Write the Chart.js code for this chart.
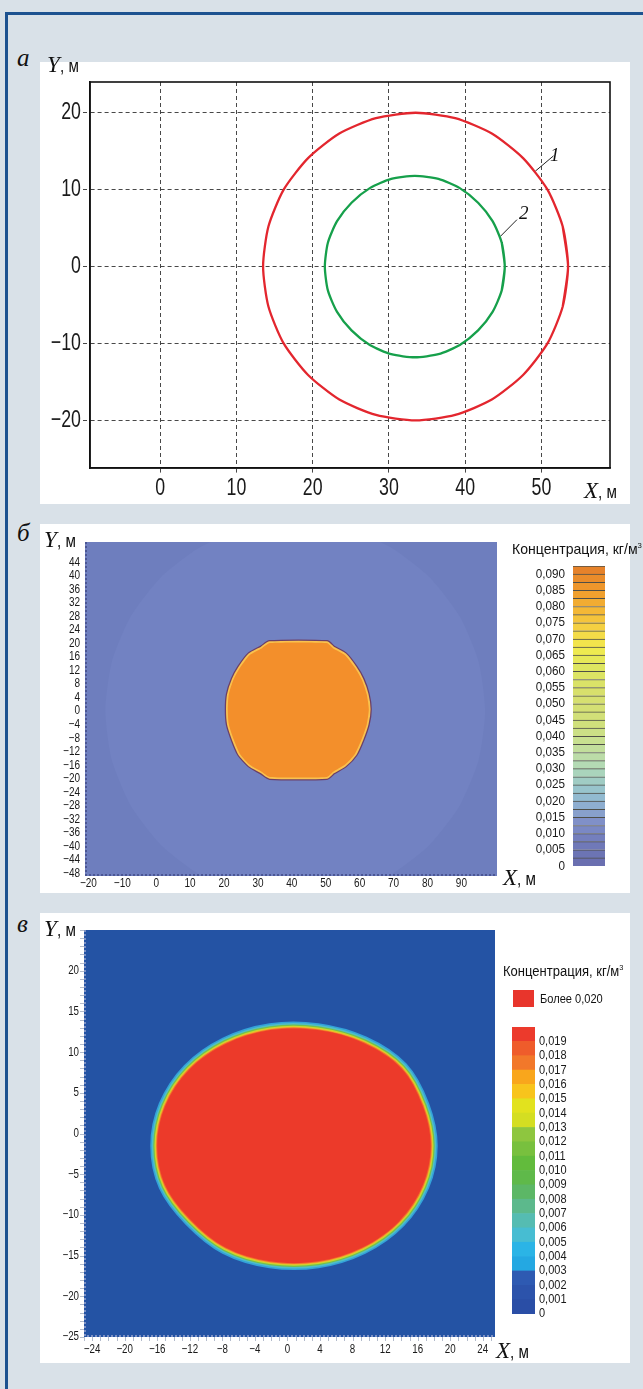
<!DOCTYPE html>
<html>
<head>
<meta charset="utf-8">
<script src="https://cdn.jsdelivr.net/npm/chart.js@4.4.1/dist/chart.umd.min.js"></script>
<style>
html, body { margin: 0; padding: 0; }
body { width: 643px; height: 1389px; background: #d9e1e8; position: relative; overflow: hidden;
       font-family: 'Liberation Sans', Arial, sans-serif; color: #111; }
#frame { position: absolute; left: 5px; top: 12px; width: 700px; height: 1450px; border: 3px solid #1d5290; }
.panel { position: absolute; background: #fff; }
.panel canvas { position: absolute; left: 0; top: 0; }
.abs { position: absolute; white-space: nowrap; line-height: 1; }
.n { display: inline-block; transform-origin: 0 50%; }
.let { font-family: 'Liberation Serif', serif; font-style: italic; font-size: 25px; }
.ax { font-size: 19px; }
.ax i { font-family: 'Liberation Serif', serif; font-size: 23px; }
.ax .n { transform: scaleX(0.8); }
.num { font-family: 'Liberation Serif', serif; font-style: italic; font-size: 19px; }
.ttl { font-size: 14px; }
.ttl .n { transform: scaleX(0.93); }
.ttl sup { font-size: 8px; }
</style>
</head>
<body>
<div id="frame"></div>

<div class="abs let" style="left:17px;top:45px">а</div>
<div class="panel" style="left:40px;top:62px;width:590px;height:442px"><canvas id="chartA" width="590" height="442"></canvas></div>
<div class="abs ax" style="left:47px;top:53px"><i>Y</i><span class="n">, м</span></div>
<div class="abs ax" style="left:584px;top:479px"><i>X</i><span class="n">, м</span></div>
<div class="abs num" style="left:550px;top:145px">1</div>
<div class="abs num" style="left:519px;top:203px">2</div>

<div class="abs let" style="left:17px;top:520px">б</div>
<div class="panel" style="left:40px;top:524px;width:590px;height:369px"><canvas id="chartB" width="590" height="369"></canvas></div>
<div class="abs ax" style="left:44px;top:528px"><i>Y</i><span class="n">, м</span></div>
<div class="abs ax" style="left:503px;top:866px"><i>X</i><span class="n">, м</span></div>
<div class="abs ttl" style="left:512px;top:542px;font-size:14.5px"><span class="n" style="transform:scaleX(0.97)">Концентрация, кг/м<sup>3</sup></span></div>
<canvas id="barB" width="100" height="320" style="position:absolute;left:520px;top:556px"></canvas>

<div class="abs let" style="left:17px;top:911px">в</div>
<div class="panel" style="left:40px;top:913px;width:590px;height:450px"><canvas id="chartC" width="590" height="450"></canvas></div>
<div class="abs ax" style="left:44px;top:917px"><i>Y</i><span class="n">, м</span></div>
<div class="abs ax" style="left:496px;top:1339px"><i>X</i><span class="n">, м</span></div>
<div class="abs ttl" style="left:503px;top:964px"><span class="n">Концентрация, кг/м<sup>3</sup></span></div>
<div class="abs" style="left:513px;top:990px;width:21px;height:17px;background:#e8352c"></div>
<div class="abs ttl" style="left:540px;top:992px;font-size:13.5px"><span class="n" style="transform:scaleX(0.82)">Более 0,020</span></div>
<canvas id="barC" width="130" height="307" style="position:absolute;left:500px;top:1017px"></canvas>

<script>
const SANS = "'Liberation Sans', Arial, sans-serif";

// --- а: контуры
const aXTicks = [0, 10, 20, 30, 40, 50];
const aYTicks = [-20, -10, 0, 10, 20];
const contour1 = [[53.5, 0], [52.8, 5.2], [50.8, 10], [47.6, 14.1], [43.5, 17.3], [38.7, 19.3],
  [33.5, 20], [28.3, 19.3], [23.5, 17.3], [19.4, 14.1], [16.2, 10], [14.2, 5.2],
  [13.5, 0], [14.2, -5.2], [16.2, -10], [19.4, -14.1], [23.5, -17.3], [28.3, -19.3],
  [33.5, -20], [38.7, -19.3], [43.5, -17.3], [47.6, -14.1], [50.8, -10], [52.8, -5.2]];
const contour2 = [[45.2, 0], [44.8, 3.1], [43.6, 5.9], [41.7, 8.3], [39.3, 10.2], [36.5, 11.4],
  [33.4, 11.8], [30.3, 11.4], [27.5, 10.2], [25.1, 8.3], [23.2, 5.9], [22.0, 3.1],
  [21.6, 0], [22.0, -3.1], [23.2, -5.9], [25.1, -8.3], [27.5, -10.2], [30.3, -11.4],
  [33.4, -11.8], [36.5, -11.4], [39.3, -10.2], [41.7, -8.3], [43.6, -5.9], [44.8, -3.1]];
const leader1 = [[51.6, 14.4], [49.2, 12.4]];
const leader2 = [[46.8, 6.1], [44.6, 3.9]];

// --- б: поле концентрации
const bXTicks = [-20, -10, 0, 10, 20, 30, 40, 50, 60, 70, 80, 90];
const bYTicks = [-48, -44, -40, -36, -32, -28, -24, -20, -16, -12, -8, -4, 0, 4, 8, 12, 16, 20, 24, 28, 32, 36, 40, 44];
const bHalo = [[97, 0], [95.1, 14.5], [89.5, 28], [80.6, 39.6], [69, 48.5], [55.5, 54.1],
  [41, 56], [26.5, 54.1], [13, 48.5], [1.4, 39.6], [-7.5, 28], [-13.1, 14.5],
  [-15, 0], [-13.1, -14.5], [-7.5, -28], [1.4, -39.6], [13, -48.5], [26.5, -54.1],
  [41, -56], [55.5, -54.1], [69, -48.5], [80.6, -39.6], [89.5, -28], [95.1, -14.5]];
const bSpot = [[33.5, 20.1], [50.3, 20.1], [52.1, 18.6], [55.6, 16.6], [58.6, 12.8], [60.6, 9.3],
  [62.1, 4.9], [62.7, 0.5], [62.1, -3.9], [60.6, -8.3], [58.6, -12.7], [55.6, -15.9],
  [52.1, -18.0], [50.3, -19.5], [33.5, -19.5], [31.2, -18.0], [27.6, -15.9], [24.7, -12.7],
  [22.8, -8.3], [21.4, -3.9], [21.1, 0.5], [21.4, 4.9], [22.8, 9.3], [24.7, 12.8],
  [27.6, 16.6], [31.2, 18.6]];
const bLevels = [0, 0.005, 0.01, 0.015, 0.02, 0.025, 0.03, 0.035, 0.04, 0.045,
  0.05, 0.055, 0.06, 0.065, 0.07, 0.075, 0.08, 0.085, 0.09];
const bBandStep = 0.0025;
const bBandColors = ['#6a6fb0', '#6c74b4', '#7079b8', '#747fbd', '#7a88c4', '#8090c8', '#88a0cc',
  '#8eaed0', '#92bad0', '#98c4cc', '#a0ccc4', '#aad4bc', '#b4dab4', '#bcdca8', '#c2de9c',
  '#c8e090', '#cce086', '#d0e07c', '#d2e078', '#d4e074', '#d6e070', '#d8e06c', '#dae268',
  '#dce464', '#dee660', '#e6e858', '#eeea50', '#f2e44c', '#f4dc48', '#f4d042', '#f4c43c',
  '#f4b836', '#f2ac32', '#f0a02e', '#ee962c', '#ea8c2a', '#e6822a'];

// --- в: поле концентрации
const cXTicks = [-24, -20, -16, -12, -8, -4, 0, 4, 8, 12, 16, 20, 24];
const cYTicks = [-25, -20, -15, -10, -5, 0, 5, 10, 15, 20];
const cSpot = [[17.6, -1.5], [16.6, 3.4], [14.0, 8.0], [9.4, 11.1], [3.7, 12.7], [-2.1, 12.7],
  [-7.6, 11.0], [-12.1, 7.8], [-15.0, 3.4], [-16.0, -1.5], [-15.0, -6.4], [-11.9, -10.6],
  [-7.6, -14.0], [-2.1, -15.7], [3.7, -15.7], [9.2, -14.0], [13.7, -10.8], [16.6, -6.4]];
const cLevels = [0, 0.001, 0.002, 0.003, 0.004, 0.005, 0.006, 0.007, 0.008, 0.009,
  0.01, 0.011, 0.012, 0.013, 0.014, 0.015, 0.016, 0.017, 0.018, 0.019];
const cBandStep = 0.001;
const cBandColors = ['#2a4ea6', '#2c53ab', '#2e5ab2', '#24a8e2', '#2bb4e6', '#47bdd2', '#55bcb2',
  '#5cb98c', '#5cb766', '#5fb94a', '#62bb3c', '#78c03e', '#8ec63f', '#d4de22', '#e2e21e',
  '#f8c41c', '#f9a61c', '#f2782a', '#ef5c2b', '#ec3a2c'];
const cRings = [
  {color: '#33a2da', width: 14},
  {color: '#50bec8', width: 11},
  {color: '#76c14a', width: 8},
  {color: '#c8d830', width: 5.5},
  {color: '#f5b02a', width: 3.5},
  {color: '#f06a2a', width: 2}
];

function pts(arr) { return arr.map(p => ({x: p[0], y: p[1]})); }
function loop(arr) {
  const a = pts(arr);
  return [a[a.length - 1]].concat(a, [a[0], a[1]]);
}
function fmtNum(v) { return v < 0 ? '\u2212' + Math.abs(v) : String(v); }
function fmtConc(v) { return v === 0 ? '0' : v.toFixed(3).replace('.', ','); }
function setTicks(list) { return function (scale) { scale.ticks = list.map(v => ({value: v})); }; }

// фон, рамка и пунктирная кромка области графика
var framePlugin = {
  id: 'frame',
  beforeDatasetsDraw: function (chart, args, opts) {
    if (!opts.fill) return;
    var a = chart.chartArea, ctx = chart.ctx;
    ctx.save();
    ctx.fillStyle = opts.fill;
    ctx.fillRect(a.left, a.top, a.right - a.left, a.bottom - a.top);
    ctx.restore();
  },
  afterDraw: function (chart, args, opts) {
    var a = chart.chartArea, ctx = chart.ctx;
    ctx.save();
    if (opts.edge) {
      ctx.strokeStyle = opts.edge;
      ctx.lineWidth = 2;
      ctx.setLineDash([2, 2]);
      ctx.beginPath();
      ctx.moveTo(a.left + 1, a.top);
      ctx.lineTo(a.left + 1, a.bottom - 1);
      ctx.lineTo(a.right, a.bottom - 1);
      ctx.stroke();
      ctx.setLineDash([]);
    }
    if (opts.minor) {
      var xs = chart.scales.x, ys = chart.scales.y, v;
      ctx.strokeStyle = opts.minor;
      ctx.lineWidth = 1;
      ctx.beginPath();
      for (v = Math.ceil(xs.min); v <= xs.max; v++) {
        var px = Math.round(xs.getPixelForValue(v)) + 0.5;
        ctx.moveTo(px, a.bottom); ctx.lineTo(px, a.bottom + 4);
      }
      for (v = Math.ceil(ys.min); v <= ys.max; v++) {
        var py = Math.round(ys.getPixelForValue(v)) + 0.5;
        ctx.moveTo(a.left - 4, py); ctx.lineTo(a.left, py);
      }
      ctx.stroke();
    }
    if (opts.color) {
      ctx.strokeStyle = opts.color;
      ctx.lineWidth = opts.width;
      ctx.strokeRect(a.left, a.top, a.right - a.left, a.bottom - a.top);
    }
    ctx.restore();
  }
};

// узкие подписи делений (как Arial Narrow)
var tickTextPlugin = {
  id: 'tickText',
  afterDraw: function (chart, args, opts) {
    var ctx = chart.ctx;
    [['x', opts.x], ['y', opts.y]].forEach(function (pair) {
      var s = chart.scales[pair[0]], c = pair[1];
      if (!s || !c) return;
      ctx.save();
      ctx.fillStyle = '#1a1a1a';
      ctx.font = c.size + 'px ' + SANS;
      s.ticks.forEach(function (t) {
        var p = s.getPixelForValue(t.value), x, y;
        if (s.isHorizontal()) { x = p; y = s.top + c.pad; ctx.textAlign = 'center'; ctx.textBaseline = 'top'; }
        else if (s.position === 'right') { x = s.left + c.pad; y = p; ctx.textAlign = 'left'; ctx.textBaseline = 'middle'; }
        else { x = s.right - c.pad; y = p; ctx.textAlign = 'right'; ctx.textBaseline = 'middle'; }
        ctx.save();
        ctx.translate(x, y);
        ctx.scale(c.k, 1);
        ctx.fillText(t.label, 0, 0);
        ctx.restore();
      });
      ctx.restore();
    });
  }
};

var hidden = {color: 'rgba(0,0,0,0)', autoSkip: false, maxRotation: 0, font: {size: 10}};

var base = {
  responsive: false,
  animation: false,
  events: [],
  plugins: {legend: {display: false}, tooltip: {enabled: false}}
};

function line(data, extra) {
  return Object.assign({data: data, pointRadius: 0, fill: false, borderWidth: 0, tension: 0}, extra);
}

// ---------- а
new Chart(document.getElementById('chartA'), {
  type: 'line',
  data: {
    datasets: [
      line(loop(contour1), {borderColor: '#e3262e', borderWidth: 2.3, tension: 0.23}),
      line(loop(contour2), {borderColor: '#16a04b', borderWidth: 2.3, tension: 0.23}),
      line(pts(leader1), {borderColor: '#222', borderWidth: 1}),
      line(pts(leader2), {borderColor: '#222', borderWidth: 1})
    ]
  },
  options: Object.assign({}, base, {
    plugins: Object.assign({}, base.plugins, {
      frame: {color: '#111', width: 1.6},
      tickText: {x: {size: 24, k: 0.74, pad: 8}, y: {size: 24, k: 0.74, pad: 9}}
    }),
    layout: {padding: {top: 20, right: 20, left: 0, bottom: 0}},
    scales: {
      x: {
        type: 'linear', min: -9.2, max: 59,
        afterBuildTicks: setTicks(aXTicks),
        afterFit: function (s) { s.height = 36; },
        grid: {color: '#333', lineWidth: 0.9, tickLength: 7, tickColor: '#333', tickBorderDash: [4, 3]},
        border: {display: true, color: '#111', width: 1.6, dash: [4, 3]},
        ticks: Object.assign({callback: fmtNum}, hidden)
      },
      y: {
        type: 'linear', min: -26.2, max: 24,
        afterBuildTicks: setTicks(aYTicks),
        afterFit: function (s) { s.width = 50; },
        grid: {color: '#333', lineWidth: 0.9, tickLength: 7, tickColor: '#333', tickBorderDash: [4, 3]},
        border: {display: true, color: '#111', width: 1.6, dash: [4, 3]},
        ticks: Object.assign({callback: fmtNum}, hidden)
      }
    }
  }),
  plugins: [framePlugin, tickTextPlugin]
});

// ---------- б
new Chart(document.getElementById('chartB'), {
  type: 'line',
  data: {
    datasets: [
      line(loop(bSpot), {backgroundColor: '#f38f2b', fill: 'shape', tension: 0.2, order: 1}),
      line(loop(bSpot), {borderColor: '#f9c24e', borderWidth: 3.5, tension: 0.2, order: 2}),
      line(loop(bSpot), {borderColor: '#6b3f68', borderWidth: 6, tension: 0.2, order: 3}),
      line(loop(bHalo), {backgroundColor: '#7282c2', fill: 'shape', tension: 0.22, order: 5})
    ]
  },
  options: Object.assign({}, base, {
    plugins: Object.assign({}, base.plugins, {
      frame: {fill: '#6e7ebe', edge: '#4b5694'},
      tickText: {x: {size: 12.5, k: 0.8, pad: 1}, y: {size: 12.5, k: 0.8, pad: 5}}
    }),
    layout: {padding: {top: 18, right: 133, left: 0, bottom: 0}},
    scales: {
      x: {
        type: 'linear', min: -21, max: 100.5,
        afterBuildTicks: setTicks(bXTicks),
        afterFit: function (s) { s.height = 17; },
        grid: {display: false, drawTicks: false},
        border: {display: false},
        ticks: Object.assign({callback: fmtNum}, hidden)
      },
      y: {
        type: 'linear', min: -48.8, max: 50,
        afterBuildTicks: setTicks(bYTicks),
        afterFit: function (s) { s.width = 45; },
        grid: {display: false, drawTicks: false},
        border: {display: false},
        ticks: Object.assign({callback: fmtNum}, hidden)
      }
    }
  }),
  plugins: [framePlugin, tickTextPlugin]
});

new Chart(document.getElementById('barB'), {
  type: 'bar',
  data: {
    labels: [''],
    datasets: bBandColors.map(function (c) {
      return {data: [bBandStep], backgroundColor: c, borderColor: '#4f4f48',
        borderWidth: {top: 1, bottom: 0, left: 0, right: 0}, borderSkipped: false,
        categoryPercentage: 1, barPercentage: 1};
    })
  },
  options: Object.assign({}, base, {
    plugins: Object.assign({}, base.plugins, {tickText: {y: {size: 13, k: 0.9, pad: 8}}}),
    layout: {padding: {top: 10, bottom: 10, right: 15, left: 0}},
    scales: {
      x: {stacked: true, display: false},
      y: {
        stacked: true, min: 0, max: bBandColors.length * bBandStep,
        afterBuildTicks: setTicks(bLevels),
        afterFit: function (s) { s.width = 53; },
        grid: {display: false, drawTicks: false},
        border: {display: false},
        ticks: Object.assign({callback: fmtConc}, hidden)
      }
    }
  }),
  plugins: [tickTextPlugin]
});

// ---------- в
var cSets = [line(loop(cSpot), {backgroundColor: '#ec3a2a', fill: 'shape', tension: 0.34, order: 0})];
cRings.slice().reverse().forEach(function (r, i) {
  cSets.push(line(loop(cSpot), {borderColor: r.color, borderWidth: r.width, tension: 0.34, order: i + 1}));
});
new Chart(document.getElementById('chartC'), {
  type: 'line',
  data: {datasets: cSets},
  options: Object.assign({}, base, {
    plugins: Object.assign({}, base.plugins, {
      frame: {fill: '#2453a4', edge: '#7c90c4', minor: '#b4bccc'},
      tickText: {x: {size: 12.5, k: 0.78, pad: 6}, y: {size: 12.5, k: 0.78, pad: 5}}
    }),
    layout: {padding: {top: 17, right: 135, left: 0, bottom: 0}},
    scales: {
      x: {
        type: 'linear', min: -25, max: 25.5,
        afterBuildTicks: setTicks(cXTicks),
        afterFit: function (s) { s.height = 26; },
        grid: {display: false, drawTicks: false},
        border: {display: false},
        ticks: Object.assign({callback: fmtNum}, hidden)
      },
      y: {
        type: 'linear', min: -25, max: 25,
        afterBuildTicks: setTicks(cYTicks),
        afterFit: function (s) { s.width = 44; },
        grid: {display: false, drawTicks: false},
        border: {display: false},
        ticks: Object.assign({callback: fmtNum}, hidden)
      }
    }
  }),
  plugins: [framePlugin, tickTextPlugin]
});

new Chart(document.getElementById('barC'), {
  type: 'bar',
  data: {
    labels: [''],
    datasets: cBandColors.map(function (c) {
      return {data: [cBandStep], backgroundColor: c, borderWidth: 0, categoryPercentage: 1, barPercentage: 1};
    })
  },
  options: Object.assign({}, base, {
    plugins: Object.assign({}, base.plugins, {tickText: {y: {size: 12.5, k: 0.88, pad: 4}}}),
    layout: {padding: {top: 10, bottom: 10, right: 0, left: 12}},
    scales: {
      x: {stacked: true, display: false},
      y: {
        stacked: true, position: 'right', min: 0, max: cBandColors.length * cBandStep,
        afterBuildTicks: setTicks(cLevels),
        afterFit: function (s) { s.width = 95; },
        grid: {display: false, drawTicks: false},
        border: {display: false},
        ticks: Object.assign({callback: fmtConc}, hidden)
      }
    }
  }),
  plugins: [tickTextPlugin]
});
</script>
</body>
</html>
